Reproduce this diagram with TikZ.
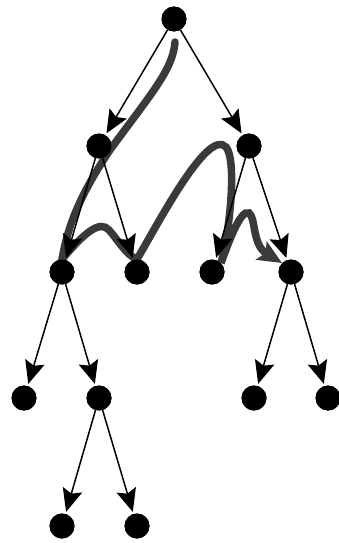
\documentclass[tikz,border=0pt]{standalone}
\usepackage{tikz}
\usetikzlibrary{arrows.meta}
\definecolor{TourGray}{HTML}{3A3A3A}
\tikzset{
  vtx/.style={circle,fill=black,inner sep=0pt,minimum size=25pt},
  edgeT/.style={line width=1.5pt,-{Stealth[length=23pt,width=20pt,inset=4pt]},shorten >=2pt},
  tour/.style={line width=7.5pt,draw=TourGray,line cap=round,
    -{Stealth[length=24pt,width=21pt,inset=5pt]}},
}

\begin{document}
\begin{tikzpicture}[x=1pt,y=-1pt]
  \useasboundingbox (0,0) rectangle (339,543);
  % vertices
  \node[vtx] (r)   at (174, 19) {};
  \node[vtx] (a)   at ( 99,146) {};
  \node[vtx] (b)   at (249,146) {};
  \node[vtx] (aa)  at ( 62,272) {};
  \node[vtx] (ab)  at (137,272) {};
  \node[vtx] (ba)  at (212,272) {};
  \node[vtx] (bb)  at (291,272) {};
  \node[vtx] (aaa) at ( 24,398) {};
  \node[vtx] (aab) at ( 99,398) {};
  \node[vtx] (bba) at (254,398) {};
  \node[vtx] (bbb) at (328,398) {};
  \node[vtx] (aaba) at ( 62,526) {};
  \node[vtx] (aabb) at (137,526) {};
  % traversal
  \coordinate (tstart) at (175,42);
  \draw[tour] (tstart) .. controls (173,70) and (150,95) .. (110,150)
    .. controls (80,195) and (68,225) .. (aa.north)
    .. controls (85,232) and (100,220) .. (109,230)
    .. controls (118,240) and (126,255) .. (ab.north)
    .. controls (160,220) and (208,128) .. (226,147)
    .. controls (237,160) and (230,230) .. (ba.north east)
    .. controls (226,250) and (240,208) .. (249,213)
    .. controls (256,218) and (252,245) .. (bb.north west);
  % tree edges
  \draw[edgeT] (r) -- (a);
  \draw[edgeT] (r) -- (b);
  \draw[edgeT] (a) -- (aa);
  \draw[edgeT] (a) -- (ab);
  \draw[edgeT] (b) -- (ba);
  \draw[edgeT] (b) -- (bb);
  \draw[edgeT] (aa) -- (aaa);
  \draw[edgeT] (aa) -- (aab);
  \draw[edgeT] (bb) -- (bba);
  \draw[edgeT] (bb) -- (bbb);
  \draw[edgeT] (aab) -- (aaba);
  \draw[edgeT] (aab) -- (aabb);
  % redraw vertices on top
  \foreach \v in {r,a,b,aa,ab,ba,bb,aaa,aab,bba,bbb,aaba,aabb}
    \fill (\v) circle (12.5pt);
\end{tikzpicture}
\end{document}
